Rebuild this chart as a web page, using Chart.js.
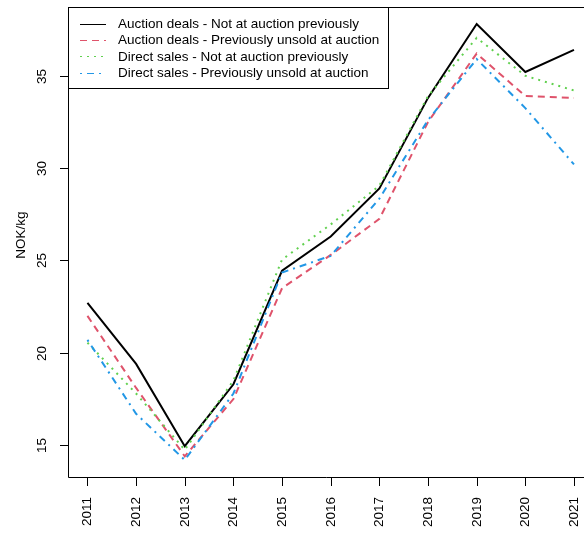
<!DOCTYPE html>
<html>
<head>
<meta charset="utf-8">
<script src="https://cdn.jsdelivr.net/npm/chart.js@4.4.1/dist/chart.umd.min.js"></script>
<style>
html,body{margin:0;padding:0;background:#fff;}
#wrap{width:584px;height:533px;}
</style>
</head>
<body>
<div id="wrap"><canvas id="c" width="584" height="533"></canvas></div>
<script>
const years = [2011, 2012, 2013, 2014, 2015, 2016, 2017, 2018, 2019, 2020, 2021];
const auctionNotPrev = [22.7, 19.4, 14.95, 18.3, 24.45, 26.3, 28.9, 33.8, 37.8, 35.2, 36.4];
const auctionPrevUnsold = [22.0, 18.1, 14.4, 17.5, 23.5, 25.3, 27.25, 32.5, 36.2, 33.9, 33.8];
const directNotPrev = [20.55, 17.8, 14.75, 18.5, 25.05, 26.95, 29.05, 33.9, 37.05, 35.0, 34.2];
const directPrevUnsold = [20.7, 16.7, 14.2, 17.8, 24.35, 25.25, 28.35, 32.6, 35.9, 33.25, 30.2];
const yTicks = [15, 20, 25, 30, 35];
const xTickLabels = ['2011','2012','2013','2014','2015','2016','2017','2018','2019','2020','2021'];
const seriesNames = [
  'Auction deals - Not at auction previously',
  'Auction deals - Previously unsold at auction',
  'Direct sales - Not at auction previously',
  'Direct sales - Previously unsold at auction'
];
const yTitle = 'NOK/kg';

const FONT = '13.5px "Liberation Sans", Arial, Helvetica, sans-serif';
const colors = ['#000000', '#DF536B', '#61D04F', '#2297E6'];
const dashes = [[], [7, 5], [2, 5], [2, 5, 7, 5]];
const seriesData = [auctionNotPrev, auctionPrevUnsold, directNotPrev, directPrevUnsold];

const datasets = seriesData.map((arr, i) => ({
  label: seriesNames[i],
  data: years.map((y, k) => ({x: y, y: arr[k]})),
  borderColor: colors[i],
  backgroundColor: colors[i],
  borderWidth: 2,
  borderDash: dashes[i],
  pointRadius: 0,
  tension: 0,
  fill: false,
  order: 4 - i
}));

const rAxes = {
  id: 'rAxes',
  afterDraw(chart) {
    const ctx = chart.ctx;
    const xs = chart.scales.x, ys = chart.scales.y;
    const a = chart.chartArea;
    ctx.save();
    ctx.strokeStyle = '#000';
    ctx.lineWidth = 1;
    // box
    ctx.beginPath();
    ctx.moveTo(a.right + 2, Math.round(a.top) + 0.5);
    ctx.lineTo(Math.round(a.left) + 0.5, Math.round(a.top) + 0.5);
    ctx.lineTo(Math.round(a.left) + 0.5, Math.round(a.bottom) + 0.5);
    ctx.lineTo(a.right + 2, Math.round(a.bottom) + 0.5);
    ctx.stroke();
    ctx.fillStyle = '#000';
    ctx.font = FONT;
    // y ticks
    yTicks.forEach(v => {
      const py = Math.round(ys.getPixelForValue(v)) + 0.5;
      ctx.beginPath();
      ctx.moveTo(a.left - 8, py);
      ctx.lineTo(a.left, py);
      ctx.stroke();
      ctx.save();
      ctx.translate(42, py);
      ctx.rotate(-Math.PI / 2);
      ctx.textAlign = 'center';
      ctx.textBaseline = 'middle';
      ctx.fillText(String(v), 0, 0);
      ctx.restore();
    });
    // x ticks
    years.forEach((yr, i) => {
      const px = Math.round(xs.getPixelForValue(yr)) + 0.5;
      ctx.beginPath();
      ctx.moveTo(px, a.bottom);
      ctx.lineTo(px, a.bottom + 9);
      ctx.stroke();
      ctx.save();
      ctx.translate(px, 497);
      ctx.rotate(-Math.PI / 2);
      ctx.textAlign = 'right';
      ctx.textBaseline = 'middle';
      ctx.fillText(xTickLabels[i], 0, 0);
      ctx.restore();
    });
    // y title
    ctx.save();
    ctx.translate(21, 235);
    ctx.rotate(-Math.PI / 2);
    ctx.textAlign = 'center';
    ctx.textBaseline = 'middle';
    ctx.fillText(yTitle, 0, 0);
    ctx.restore();
    // legend
    ctx.fillStyle = '#fff';
    ctx.fillRect(68.5, 7.5, 320, 81);
    ctx.strokeStyle = '#000';
    ctx.strokeRect(68.5, 7.5, 320, 81);
    chart.data.datasets.forEach((ds, i) => {
      const ly = 24 + i * 16.2;
      ctx.save();
      ctx.strokeStyle = ds.borderColor;
      ctx.lineWidth = 1;
      ctx.setLineDash(ds.borderDash);
      ctx.beginPath();
      ctx.moveTo(80, Math.round(ly) + 0.5);
      ctx.lineTo(106, Math.round(ly) + 0.5);
      ctx.stroke();
      ctx.restore();
      ctx.fillStyle = '#000';
      ctx.textAlign = 'left';
      ctx.textBaseline = 'middle';
      ctx.fillText(ds.label, 118, ly + 0.5);
    });
    ctx.restore();
  }
};

new Chart(document.getElementById('c'), {
  type: 'line',
  data: {datasets},
  options: {
    responsive: false,
    animation: false,
    devicePixelRatio: 1,
    layout: {padding: {left: 68, top: 7, right: 0, bottom: 56}},
    plugins: {legend: {display: false}, tooltip: {enabled: false}},
    scales: {
      x: {type: 'linear', min: 2010.6, max: 2021.206, display: false},
      y: {type: 'linear', min: 13.28, max: 38.72, display: false}
    }
  },
  plugins: [rAxes]
});
</script>
</body>
</html>
